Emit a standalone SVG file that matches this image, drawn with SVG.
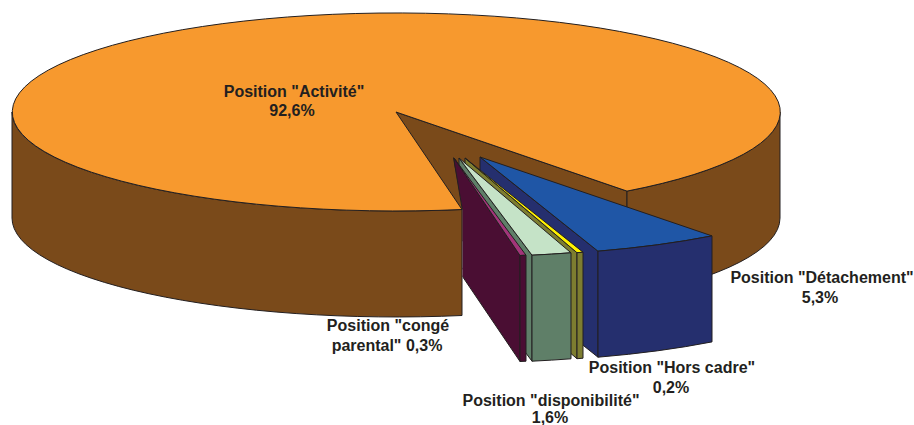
<svg xmlns="http://www.w3.org/2000/svg" width="914" height="425" viewBox="0 0 914 425">
  <style>
    .e { stroke: #231F20; stroke-width: 1; stroke-linejoin: round; }
    .orange { fill: #F7992E; }
    .brown { fill: #7A4A1A; }
    .lblue { fill: #1F56A6; }
    .dblue { fill: #252F6E; }
    .yellow { fill: #FFF200; }
    .olive { fill: #7D7D30; }
    .lgreen { fill: #C5E3C7; }
    .ggreen { fill: #5F7F68; }
    .magenta { fill: #A3357A; }
    .dpurple { fill: #4A0E33; }
    .lbl { font-family: "Liberation Sans", Arial, sans-serif; font-weight: bold; font-size: 16px; fill: #231F20; text-anchor: middle; }
  </style>
  <defs>
    <clipPath id="sliceClip">
      <polygon points="453,140 914,140 914,425 462.5,425 462.5,210 453,157"/>
    </clipPath>
  </defs>
  <rect width="914" height="425" fill="#FFFFFF"/>

  <g id="slice-activite">
    <path class="e brown" d="M396,112 L627,191.1 L627,297.1 L396,218 Z"/>
    <path class="e brown" d="M627,191.1 A384,99 0 0 0 780,112 L780,218 A384,99 0 0 1 627,297.1 Z"/>
    <path class="e brown" d="M12,112 A384,99 0 0 0 462,209.5 L462,315.5 A384,99 0 0 1 12,218 Z"/>
    <path class="e orange" d="M396,112 L462,209.5 A384,99 0 1 1 627,191.1 Z"/>
    <text class="lbl" x="294" y="97">Position "Activité"</text>
    <text class="lbl" x="292" y="116">92,6%</text>
  </g>

  <g clip-path="url(#sliceClip)">
    <g id="slice-detachement">
      <path class="e dblue" d="M480,157 L598,251.2 L598,357.2 L480,263 Z"/>
      <path class="e lblue" d="M480,157 L598,251.2 A384,99 0 0 0 712,235.9 Z"/>
      <path class="e dblue" d="M598,251.2 A384,99 0 0 0 712,235.9 L712,341.9 A384,99 0 0 1 598,357.2 Z"/>
    </g>
    <g id="slice-hors-cadre">
      <path class="e olive" d="M465,158 L577,252.7 L577,358.7 L465,264 Z"/>
      <path class="e yellow" d="M465,158 L577,252.7 A384,99 0 0 0 583,252.2 Z"/>
      <path class="e olive" d="M577,252.7 A384,99 0 0 0 583,252.2 L583,358.2 A384,99 0 0 1 577,358.7 Z"/>
    </g>
    <g id="slice-disponibilite">
      <path class="e ggreen" d="M459,158 L532,255.2 L532,361.2 L459,264 Z"/>
      <path class="e lgreen" d="M459,158 L532,255.2 A384,99 0 0 0 571,252.8 Z"/>
      <path class="e ggreen" d="M532,255.2 A384,99 0 0 0 571,252.8 L571,358.8 A384,99 0 0 1 532,361.2 Z"/>
    </g>
    <g id="slice-conge-parental">
      <path class="e dpurple" d="M454,158 L520,255.5 L520,361.5 L454,264 Z"/>
      <path class="e magenta" d="M454,158 L520,255.5 A384,99 0 0 0 526,255.2 Z"/>
      <path class="e dpurple" d="M520,255.5 A384,99 0 0 0 526,255.2 L526,361.2 A384,99 0 0 1 520,361.5 Z"/>
    </g>
  </g>
  <path class="e" fill="none" d="M453.5,157.5 L462.3,209.5"/>

  <g id="labels">
    <text class="lbl" x="822" y="283">Position "Détachement"</text>
    <text class="lbl" x="820" y="303">5,3%</text>
    <text class="lbl" x="388" y="331">Position "congé</text>
    <text class="lbl" x="387" y="351">parental" 0,3%</text>
    <text class="lbl" x="672" y="373">Position "Hors cadre"</text>
    <text class="lbl" x="671" y="393">0,2%</text>
    <text class="lbl" x="551" y="406">Position "disponibilité"</text>
    <text class="lbl" x="550" y="423">1,6%</text>
  </g>
</svg>
